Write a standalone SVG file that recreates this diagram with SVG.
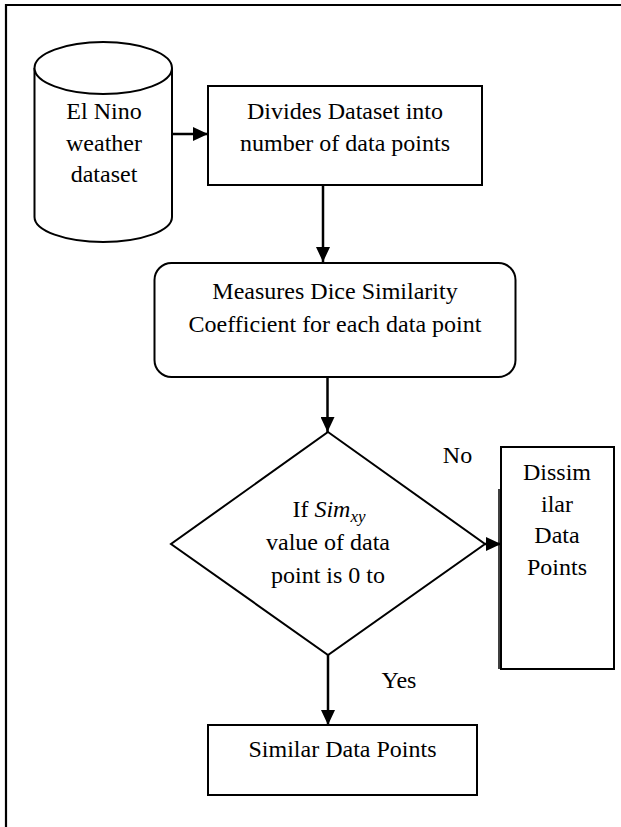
<svg xmlns="http://www.w3.org/2000/svg" width="621" height="827" viewBox="0 0 621 827">
<style>
.s{fill:#fff;stroke:#000;stroke-width:2}
.t{font-family:"Liberation Serif","Times New Roman",serif;font-size:24px;fill:#000;text-anchor:middle}
.c{fill:none;stroke:#000;stroke-width:2.5}
</style>
<defs>
<marker id="ah" markerUnits="userSpaceOnUse" markerWidth="16" markerHeight="14" refX="15" refY="7" orient="auto">
<path d="M0,0 L15,7 L0,14 z" fill="#000"/>
</marker>
</defs>
<rect x="0" y="0" width="621" height="827" fill="#fff"/>
<path d="M6,827 V5 H621" fill="none" stroke="#000" stroke-width="2.2"/>
<g id="dataset">
<path class="s" d="M34.5,68 V217 A68.75,25 0 0 0 172,217 V68"/>
<ellipse class="s" cx="103.25" cy="68" rx="68.75" ry="26"/>
<text class="t" x="104" y="118.5">El Nino</text>
<text class="t" x="104" y="150.5">weather</text>
<text class="t" x="104" y="182">dataset</text>
</g>
<g id="divide">
<rect class="s" x="208" y="86" width="274" height="99"/>
<text class="t" x="345" y="118.5">Divides Dataset into</text>
<text class="t" x="345" y="150.5">number of data points</text>
</g>
<g id="measure">
<rect class="s" x="154.5" y="263" width="361" height="114" rx="17" ry="17"/>
<text class="t" x="335" y="299">Measures Dice Similarity</text>
<text class="t" x="335" y="332">Coefficient for each data point</text>
</g>
<g id="decision">
<polygon class="s" points="328,432 485,544 328,655 171,544"/>
<text class="t" x="329" y="517">If <tspan font-style="italic">Sim</tspan><tspan font-style="italic" font-size="17" dy="5">xy</tspan></text>
<text class="t" x="328" y="550">value of data</text>
<text class="t" x="328" y="583">point is 0 to</text>
</g>
<g id="dissimilar">
<rect class="s" x="501" y="447" width="113" height="222"/>
<line x1="499" y1="489" x2="499" y2="669" stroke="#000" stroke-width="1.5"/>
<text class="t" x="557" y="480">Dissim</text>
<text class="t" x="557" y="512">ilar</text>
<text class="t" x="557" y="543">Data</text>
<text class="t" x="557" y="575">Points</text>
</g>
<g id="similar">
<rect class="s" x="208" y="725" width="269" height="70"/>
<text class="t" x="342.5" y="757">Similar Data Points</text>
</g>
<g id="connectors">
<line class="c" x1="172" y1="134" x2="208" y2="134" marker-end="url(#ah)"/>
<line class="c" x1="323" y1="185" x2="323" y2="262" marker-end="url(#ah)"/>
<line class="c" x1="327.5" y1="377" x2="327.5" y2="432" marker-end="url(#ah)"/>
<line class="c" x1="485" y1="544" x2="501" y2="544" marker-end="url(#ah)"/>
<line class="c" x1="328" y1="655" x2="328" y2="725" marker-end="url(#ah)"/>
<text class="t" x="457.5" y="463">No</text>
<text class="t" x="399" y="688">Yes</text>
</g>
</svg>
